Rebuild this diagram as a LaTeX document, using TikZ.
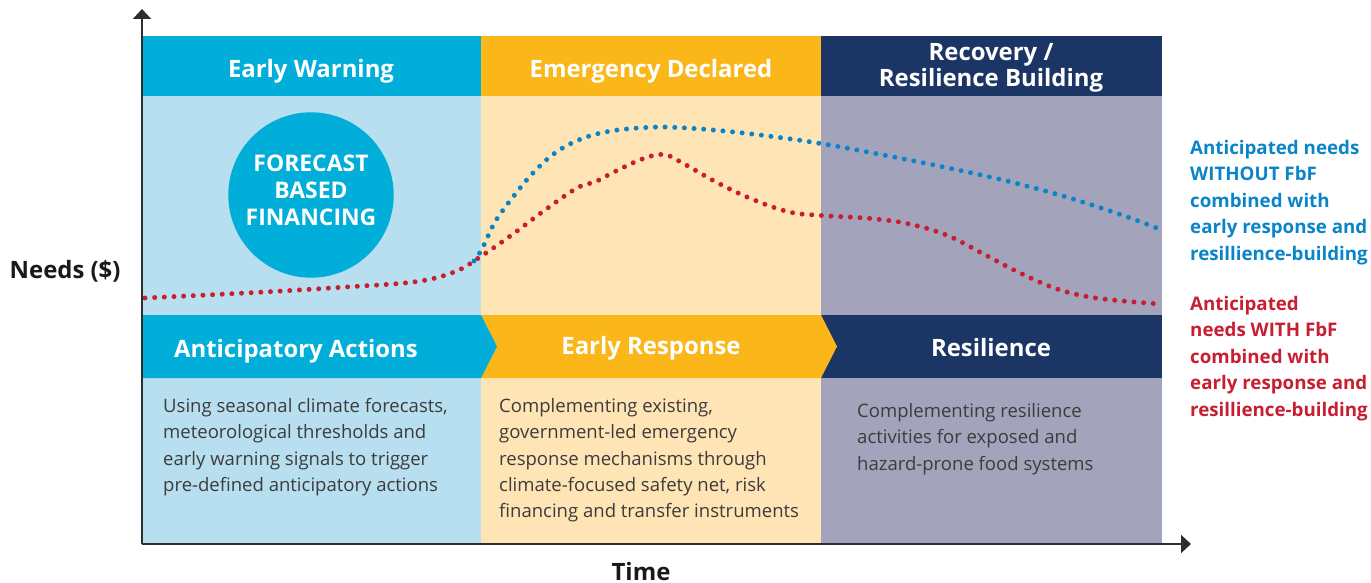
\documentclass[tikz,border=0pt]{standalone}
\usepackage{fontspec}
\setmainfont{Open Sans}
\usetikzlibrary{arrows.meta}
\usetikzlibrary{positioning}
\definecolor{fbfcyan}{RGB}{0,174,217}
\definecolor{fbflight}{RGB}{184,223,239}
\definecolor{fbfyellow}{RGB}{251,182,25}
\definecolor{fbfcream}{RGB}{255,228,181}
\definecolor{fbfnavy}{RGB}{27,53,100}
\definecolor{fbflilac}{RGB}{163,163,187}
\definecolor{fbfblue}{RGB}{10,132,201}
\definecolor{fbfred}{RGB}{200,30,50}
\definecolor{axisgrey}{RGB}{45,45,45}
\definecolor{bodygrey}{RGB}{60,60,60}
\tikzset{
	headtext/.style={text=white, align=center, font=\bfseries\fontsize{24}{26}\selectfont},
	chevtext/.style={text=white, align=center, font=\bfseries\fontsize{24}{26}\selectfont},
	bodytext/.style={anchor=north west, inner sep=0pt, align=left, text=bodygrey, font=\fontsize{18.6}{26.5}\selectfont},
	legendtext/.style={anchor=north west, inner sep=0pt, align=left, font=\bfseries\fontsize{18.8}{26.6}\selectfont},
	axislabel/.style={text=black!90, font=\bfseries\fontsize{24}{26}\selectfont},
	needsdots/.style={line width=5, line cap=round, dash pattern=on 0pt off 9.7pt},
	axisline/.style={line width=2, draw=axisgrey, -{Triangle[length=10, width=18]}}
}

\begin{document}
\begin{tikzpicture}[x=1bp, y=-1bp]
	\useasboundingbox (0,0) rectangle (1371,583);
	% column backgrounds
	\fill[fbflight] (142,96) rectangle (481,544);
	\fill[fbfcream] (481,96) rectangle (821,544);
	\fill[fbflilac] (821,96) rectangle (1162,544);
	% phase headers
	\fill[fbfcyan] (142,36) rectangle (481,96);
	\fill[fbfyellow] (481,36) rectangle (821,96);
	\fill[fbfnavy] (821,36) rectangle (1162,96);
	\node[headtext] at (311,71) (warn) {Early Warning};
	\node[headtext] at (651,71) (emerg) {Emergency Declared};
	\node[headtext] at (991,68) (recov) {Recovery /\\Resilience Building};
	
	% chevron band
	\fill[fbfnavy] (821,315) rectangle (1162,378);
	\fill[fbfyellow] (481,315) -- (821,315) -- (837,346.5) -- (821,378) -- (481,378) -- cycle;
	\fill[fbfcyan] (142,315) -- (481,315) -- (497,346.5) -- (481,378) -- (142,378) -- cycle;
	\node[chevtext] at (296,351) (antic) {Anticipatory Actions};
	\node[chevtext] at (651,348) (early) {Early Response};
	\node[chevtext] at (991,348) (resil) {Resilience};
	
	\node[circle, fill=fbfcyan, minimum size=166, inner sep=0pt] at (311,195) (fbf) {};
	\node[align=center, text=white, font=\bfseries\fontsize{23}{27}\selectfont] at (311,190) (fbftxt) {FORECAST\\BASED\\FINANCING};
	
	% needs curves
	\draw[needsdots, fbfblue] plot[smooth, tension=0.6] coordinates {(474,261) (482,249) (495,222) (513,197) (533,173) (555,153) (581,139) (611,131) (650,127.3) (681,127.7) (721,130.7) (760,135) (800,140.3) (839,146.7) (887,155.7) (945,167.3) (1004,180.3) (1063,196) (1121,214.7) (1160,229.3)};
	\draw[needsdots, fbfred] plot[smooth, tension=0.6] coordinates {(145,298) (255,292.5) (346,287) (416,281.7) (455,271.7) (480,257) (513,234) (545,210) (577,188) (596,181.5) (614,172) (643,158.7) (664,154.5) (682,162.7) (716,182) (751,198.7) (788,211.7) (818,215.3) (868,218.3) (908,223.7) (947,235.3) (983,253.7) (1020,273) (1058,289.3) (1098,298.3) (1160,304)};
	
	% descriptions
	\node[bodytext] at (163,398) (antictxt) {Using seasonal climate forecasts,\\meteorological thresholds and\\early warning signals to trigger\\pre-defined anticipatory actions};
	\node[bodytext] at (499,398) (earlytxt) {Complementing existing,\\government-led emergency\\response mechanisms through\\climate-focused safety net, risk\\financing and transfer instruments};
	\node[bodytext] at (857,403) (resiltxt) {Complementing resilience\\activities for exposed and\\hazard-prone food systems};
	
	% axes
	\coordinate (origin) at (142,544);
	\coordinate (ytip) at (142,9);
	\coordinate (xtip) at (1191,544);
	\draw[axisline] (origin) -- (ytip);
	\draw[axisline] (origin) -- (xtip);
	\node[axislabel, anchor=east] at (124,271) (needs) {Needs (\$)};
	\node[axislabel, anchor=base, inner sep=0pt] at (641,580) (time) {Time};
	
	% legend
	\node[legendtext, text=fbfblue] at (1190,140) (nofbf) {Anticipated needs\\WITHOUT FbF\\combined with\\early response and\\resillience-building};
	\node[legendtext, text=fbfred] at (1190,296) (withfbf) {Anticipated\\needs WITH FbF\\combined with\\early response and\\resillience-building};
\end{tikzpicture}
\end{document}
